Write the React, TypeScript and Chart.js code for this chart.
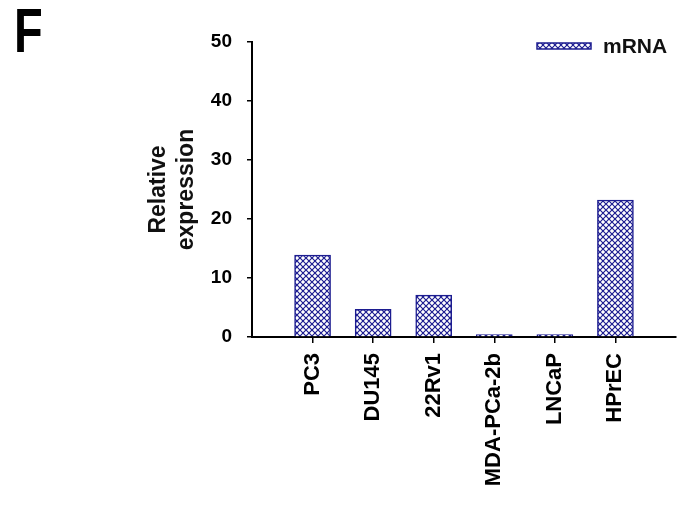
import React, { useEffect, useRef } from "react";
import { Chart, registerables } from "chart.js";

Chart.register(...registerables);

const categories = ["PC3", "DU145", "22Rv1", "MDA-PCa-2b", "LNCaP", "HPrEC"];
const mrnaValues = [13.9, 4.7, 7.1, 0.4, 0.4, 23.2];
const seriesLabel = "mRNA";
const yMin = 0;
const yMax = 50;
const yStep = 10;
const yTitle = ["Relative", "expression"];
const panelLetter = "F";

const NAVY = "#1c1c90";
const FONT = "'Liberation Sans', Arial, Helvetica, sans-serif";

function makePattern(): CanvasPattern | string {
  const c = document.createElement("canvas");
  c.width = 6;
  c.height = 6;
  const ctx = c.getContext("2d");
  if (!ctx) return NAVY;
  ctx.fillStyle = "#ffffff";
  ctx.fillRect(0, 0, 6, 6);
  ctx.strokeStyle = NAVY;
  ctx.lineWidth = 1.2;
  ctx.beginPath();
  ctx.moveTo(0, 0);
  ctx.lineTo(6, 6);
  ctx.moveTo(6, 0);
  ctx.lineTo(0, 6);
  ctx.stroke();
  ctx.fillStyle = NAVY;
  ctx.fillRect(2.5, 2.5, 1, 1);
  return ctx.createPattern(c, "repeat") || NAVY;
}

const decorPlugin = {
  id: "decor",
  afterDraw(chart: any) {
    const ctx = chart.ctx as CanvasRenderingContext2D;
    const ds = chart.data.datasets[0];
    const right = chart.chartArea.right;
    ctx.save();
    // legend
    const bx = right - 139;
    const by = 43;
    ctx.fillStyle = ds.backgroundColor;
    ctx.fillRect(bx, by, 54, 6);
    ctx.strokeStyle = NAVY;
    ctx.lineWidth = 1.5;
    ctx.strokeRect(bx, by, 54, 6);
    ctx.fillStyle = "#111";
    ctx.font = `bold 21px ${FONT}`;
    ctx.textAlign = "left";
    ctx.textBaseline = "middle";
    ctx.fillText(ds.label, right - 73, 47);
    // panel letter
    ctx.translate(14, 52);
    ctx.scale(1, 1.35);
    ctx.font = `bold 47px ${FONT}`;
    ctx.textBaseline = "alphabetic";
    ctx.fillStyle = "#000";
    ctx.fillText(panelLetter, 0, 0);
    ctx.restore();
  },
};

export default function App() {
  const ref = useRef<HTMLCanvasElement | null>(null);

  useEffect(() => {
    if (!ref.current) return;
    const pattern = makePattern();
    const chart = new Chart(ref.current, {
      type: "bar",
      data: {
        datasets: [
          {
            label: seriesLabel,
            data: categories.map((_, i) => ({ x: i, y: mrnaValues[i] })),
            backgroundColor: pattern as any,
            borderColor: NAVY,
            borderWidth: 1.5,
            barThickness: 36,
          },
        ],
      },
      options: {
        animation: false,
        responsive: true,
        maintainAspectRatio: false,
        layout: { padding: { top: 42, right: 16, left: 0, bottom: 0 } },
        plugins: {
          legend: { display: false },
          tooltip: { enabled: false },
        },
        scales: {
          x: {
            type: "linear",
            min: -1,
            max: categories.length,
            offset: false,
            afterBuildTicks(scale: any) {
              scale.ticks = categories.map((_, i) => ({ value: i }));
            },
            afterFit(scale: any) {
              scale.height = 168;
            },
            ticks: {
              stepSize: 1,
              autoSkip: false,
              maxRotation: 90,
              minRotation: 90,
              padding: 10,
              color: "#000",
              font: { family: FONT, size: 22, weight: "bold" },
              callback: (v: any) => categories[v as number] ?? "",
            },
            grid: {
              display: true,
              offset: false,
              drawOnChartArea: false,
              drawTicks: true,
              tickLength: 6,
              color: "#000",
              lineWidth: 1.5,
            },
            border: { display: true, color: "#000", width: 2 },
          },
          y: {
            min: yMin,
            max: yMax,
            afterFit(scale: any) {
              scale.width = 252;
            },
            ticks: {
              stepSize: yStep,
              padding: 15,
              color: "#000",
              font: { family: FONT, size: 19, weight: "bold" },
            },
            grid: {
              display: true,
              drawOnChartArea: false,
              drawTicks: true,
              tickLength: 5,
              color: "#000",
              lineWidth: 1.5,
            },
            border: { display: true, color: "#000", width: 2 },
            title: {
              display: true,
              text: yTitle,
              color: "#111",
              font: { family: FONT, size: 23, weight: "bold", lineHeight: 1.2 },
              padding: { top: 145, bottom: 0 },
            },
          },
        },
      },
      plugins: [decorPlugin],
    });
    return () => chart.destroy();
  }, []);

  return (
    <div style={{ position: "absolute", left: 0, top: 0, width: 692, height: 505, background: "#fff" }}>
      <canvas ref={ref} />
    </div>
  );
}
